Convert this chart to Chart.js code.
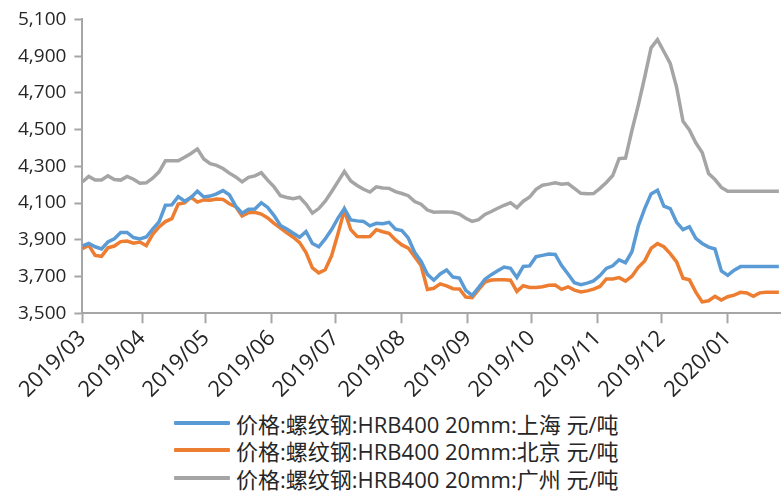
<!DOCTYPE html>
<html>
<head>
<meta charset="utf-8">
<script src="https://cdn.jsdelivr.net/npm/chart.js@4/dist/chart.umd.min.js"></script>
<style>
  html, body { margin: 0; padding: 0; background: #fff; }
  #page { width: 781px; height: 491px; position: relative; overflow: hidden; }
  #wrap { width: 781px; height: 405px; position: absolute; left: 0; top: 0; }
  #legend {
    position: absolute; left: 174px; top: 409px;
    font-family: "Open Sans", "Noto Sans CJK SC", sans-serif;
    font-size: 22px; color: #262626;
  }
  .legend-row { display: flex; align-items: center; height: 27.5px; white-space: nowrap; }
  .legend-swatch { width: 56px; height: 4px; margin-right: 6px; border-radius: 1px; }
</style>
</head>
<body>
<div id="page">
  <div id="wrap"><canvas id="priceChart"></canvas></div>
  <div id="legend"></div>
</div>
<script>
// 螺纹钢 HRB400 20mm 现货价格（元/吨），每3天取一个点
const dates = [
  '2019-03-04','2019-03-07','2019-03-10','2019-03-13','2019-03-16','2019-03-19','2019-03-22','2019-03-25','2019-03-28','2019-03-31',
  '2019-04-03','2019-04-06','2019-04-09','2019-04-12','2019-04-15','2019-04-18','2019-04-21','2019-04-24','2019-04-27','2019-04-30',
  '2019-05-03','2019-05-06','2019-05-09','2019-05-12','2019-05-15','2019-05-18','2019-05-21','2019-05-24','2019-05-27','2019-05-30',
  '2019-06-02','2019-06-05','2019-06-08','2019-06-11','2019-06-14','2019-06-17','2019-06-20','2019-06-23','2019-06-26','2019-06-29',
  '2019-07-02','2019-07-05','2019-07-08','2019-07-11','2019-07-14','2019-07-17','2019-07-20','2019-07-23','2019-07-26','2019-07-29',
  '2019-08-01','2019-08-04','2019-08-07','2019-08-10','2019-08-13','2019-08-16','2019-08-19','2019-08-22','2019-08-25','2019-08-28','2019-08-31',
  '2019-09-03','2019-09-06','2019-09-09','2019-09-12','2019-09-15','2019-09-18','2019-09-21','2019-09-24','2019-09-27','2019-09-30',
  '2019-10-03','2019-10-06','2019-10-09','2019-10-12','2019-10-15','2019-10-18','2019-10-21','2019-10-24','2019-10-27','2019-10-30',
  '2019-11-02','2019-11-05','2019-11-08','2019-11-11','2019-11-14','2019-11-17','2019-11-20','2019-11-23','2019-11-26','2019-11-29',
  '2019-12-02','2019-12-05','2019-12-08','2019-12-11','2019-12-14','2019-12-17','2019-12-20','2019-12-23','2019-12-26','2019-12-29',
  '2020-01-01','2020-01-04','2020-01-07','2020-01-10','2020-01-13','2020-01-16','2020-01-19','2020-01-22','2020-01-25'
];

const shanghai = [
  3867,3880,3862,3850,3888,3906,3940,3940,3912,3905,
  3915,3958,3998,4088,4090,4135,4110,4130,4165,4133,
  4138,4150,4168,4145,4083,4045,4066,4068,4102,4076,
  4032,3978,3959,3936,3914,3945,3880,3862,3905,3956,
  4018,4070,4008,4003,4000,3976,3990,3987,3995,3958,
  3950,3910,3832,3784,3712,3680,3714,3736,3697,3692,3625,
  3598,3640,3685,3710,3731,3752,3745,3695,3755,3758,
  3808,3815,3822,3820,3760,3714,3666,3656,3664,3676,
  3705,3744,3758,3791,3775,3835,3975,4070,4150,4170,
  4083,4070,3995,3955,3971,3908,3880,3860,3850,3730,
  3706,3735,3754,3754,3754,3754,3754,3754,3754
];

const beijing = [
  3852,3870,3815,3810,3856,3866,3890,3893,3882,3888,
  3868,3930,3970,3999,4015,4095,4101,4132,4105,4117,
  4116,4122,4120,4096,4080,4030,4047,4050,4040,4019,
  3989,3964,3938,3914,3885,3831,3747,3720,3737,3813,
  3933,4060,3955,3918,3917,3918,3955,3944,3935,3899,
  3872,3855,3808,3760,3630,3636,3660,3649,3634,3632,3588,
  3585,3628,3670,3681,3682,3682,3680,3619,3650,3640,
  3640,3644,3652,3654,3630,3644,3626,3616,3622,3631,
  3646,3687,3687,3694,3675,3702,3750,3785,3853,3879,
  3862,3825,3780,3691,3682,3615,3562,3568,3592,3572,
  3590,3599,3614,3610,3592,3611,3615,3615,3615
];

const guangzhou = [
  4215,4245,4226,4226,4248,4228,4225,4245,4230,4208,
  4210,4235,4270,4330,4330,4330,4349,4370,4395,4340,
  4315,4305,4288,4263,4242,4215,4240,4248,4265,4225,
  4188,4140,4130,4124,4132,4095,4045,4070,4110,4162,
  4217,4272,4220,4196,4175,4160,4188,4182,4180,4162,
  4152,4140,4108,4094,4062,4050,4052,4052,4050,4040,4017,
  4000,4010,4038,4054,4072,4088,4102,4075,4110,4133,
  4175,4197,4203,4210,4202,4206,4180,4153,4151,4152,
  4180,4212,4250,4342,4345,4495,4633,4785,4945,4990,
  4925,4860,4730,4545,4498,4428,4375,4261,4228,4185,
  4164,4164,4164,4164,4164,4164,4164,4164,4164
];

const seriesNames = [
  '价格:螺纹钢:HRB400 20mm:上海 元/吨',
  '价格:螺纹钢:HRB400 20mm:北京 元/吨',
  '价格:螺纹钢:HRB400 20mm:广州 元/吨'
];
const seriesColors = ['#5b9bd5', '#ed7d31', '#a5a5a5'];

const monthLabels = ['2019/03','2019/04','2019/05','2019/06','2019/07','2019/08','2019/09','2019/10','2019/11','2019/12','2020/01'];
const yTicks = [3500, 3700, 3900, 4100, 4300, 4500, 4700, 4900, 5100];

// 横轴按天计：第一天为 0
const firstDay = Date.UTC(2019, 2, 4);
function dayOf(str) {
  const [y, m, d] = str.split('-').map(Number);
  return (Date.UTC(y, m - 1, d) - firstDay) / 86400000;
}
const monthTickValues = monthLabels.map(l => Math.max(0, dayOf(l.replace('/', '-') + '-01')));
const lastDay = dayOf(dates[dates.length - 1]) + 1;

Chart.defaults.font.family = '"Open Sans", "Noto Sans CJK SC", sans-serif';
Chart.defaults.color = '#262626';

const axisGray = '#a6a6a6';

new Chart(document.getElementById('priceChart'), {
  type: 'line',
  data: {
    datasets: [shanghai, beijing, guangzhou].map((vals, i) => ({
      label: seriesNames[i],
      data: dates.map((d, j) => ({ x: dayOf(d), y: vals[j] })),
      borderColor: seriesColors[i],
      backgroundColor: seriesColors[i],
      borderWidth: 3.5,
      pointRadius: 0,
      tension: 0
    }))
  },
  options: {
    responsive: true,
    maintainAspectRatio: false,
    animation: false,
    layout: { padding: { top: 14, left: 10, right: 0, bottom: 0 } },
    scales: {
      x: {
        type: 'linear',
        min: 0,
        max: lastDay,
        afterBuildTicks: scale => {
          scale.ticks = monthTickValues.map(v => ({ value: v }));
        },
        ticks: {
          autoSkip: false,
          maxRotation: 45,
          minRotation: 45,
          padding: 2,
          font: { size: 22 },
          callback: (value, index) => monthLabels[index]
        },
        grid: { drawOnChartArea: false, color: axisGray, tickLength: 10, tickWidth: 2 },
        border: { color: axisGray, width: 2 }
      },
      y: {
        min: 3500,
        max: 5100,
        afterBuildTicks: scale => {
          scale.ticks = yTicks.map(v => ({ value: v }));
        },
        ticks: {
          padding: 8,
          font: { size: 19 },
          callback: v => v.toLocaleString('en-US')
        },
        grid: { drawOnChartArea: false, color: axisGray, tickLength: 8, tickWidth: 2 },
        border: { color: axisGray, width: 2 }
      }
    },
    plugins: {
      legend: { display: false },
      tooltip: { enabled: false }
    }
  }
});

// 图例
document.getElementById('legend').innerHTML = seriesNames.map((name, i) => `
  <div class="legend-row">
    <div class="legend-swatch" style="background-color: ${seriesColors[i]}"></div>
    <span>${name}</span>
  </div>
`).join('');
</script>
</body>
</html>
